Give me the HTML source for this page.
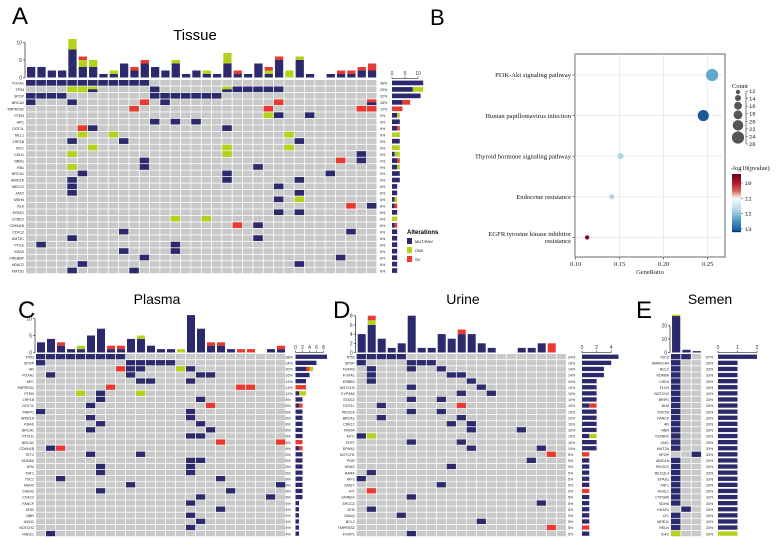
<!DOCTYPE html>
<html><head><meta charset="utf-8"><style>
html,body{margin:0;padding:0;background:#fff;}
svg{display:block;font-family:"Liberation Sans",sans-serif;}
.serif{font-family:"Liberation Serif",serif;}
</style></head><body>
<svg id="fig" width="778" height="538" viewBox="0 0 778 538" xmlns="http://www.w3.org/2000/svg">
<text x="12" y="24" font-size="24">A</text>
<text x="195" y="40" font-size="15" text-anchor="middle">Tissue</text>
<text x="430" y="25" font-size="22">B</text>
<text x="18" y="318" font-size="24">C</text>
<text x="157" y="304" font-size="14" text-anchor="middle">Plasma</text>
<text x="333" y="318" font-size="24">D</text>
<text x="463" y="304" font-size="14" text-anchor="middle">Urine</text>
<text x="636" y="318" font-size="24">E</text>
<text x="710" y="304" font-size="14" text-anchor="middle">Semen</text>
<g>
<text x="407" y="234" font-size="6" font-weight="bold">Alterations</text>
<rect x="407" y="238" width="5" height="6" fill="#2c2a6c"/><text x="415" y="243" font-size="4">MUT/SNV</text>
<rect x="407" y="247" width="5" height="6" fill="#b4d21a"/><text x="415" y="252" font-size="4">CNV</text>
<rect x="407" y="256" width="5" height="6" fill="#e83a2e"/><text x="415" y="261" font-size="4">SV</text>
</g>
</svg>
<script>
// ---------- Tissue ----------
const tissueGenes=["FOXA1","TP53","SPOP","BRCA2","TMPRSS2","PTEN","APC","DOT1L","MLL1","LRP1B","MYC","CDH1","NRR1","RB1","BRCA1","ARID1A","MED12","JAK2","MSH6","ALK","EPAS1","CCND1","CDKN1B","CDK12","KMT2C","POLE","KRAS","CREBBP","HDAC2","KMT2D"];
const tissueRows=["0-11b","4-5g,6x,12b,19x,20-24b","0-3b,12-18b","0b,4b,11r,13b,24r,33y","10r,23r,32-33r","23g,24b,27b","12b,14b,16b","5r,6b,19b","5g,8g,25g","4b,9b,26b","6g,19g,25g","4g,19g,32b","11b,30r,32b","4g,11b,22b","5b,19b,29b","4b,19b,26b","4b,24b","4b,26b","24b,26g","31r,33b","24b,26b","14g,17g","20r,22b","9b,31b","4b,22b","1b,14b","9b,14b","11b,30b","5b,26b","4b,10b"];
const tissueBlue=[3,3,2,2,8,3,3,1,1,4,2,4,3,2,4,1,2,1,1,4,1,1,4,1,5,0,5,1,0,1,1,1,2,2];
const tissueGreen=[0,0,0,0,3,2,2,0,1,0,0,0,0,0,1,0,0,1,0,3,0,0,0,1,0,2,1,0,0,0,0,0,0,0];
const tissueRed=[0,0,0,0,0,1,0,0,0,0,1,1,0,0,0,0,0,0,0,0,1,0,0,1,1,0,0,0,0,0,1,1,1,2];
const tissuePct=["36%","29%","32%","18%","12%","9%","9%","9%","9%","9%","9%","9%","9%","9%","9%","9%","6%","6%","6%","6%","6%","6%","6%","6%","6%","6%","6%","6%","6%","6%"];
const tissueTicks=[0,5,10];
const tissueRbTicks=[0,5,10];
// ---------- Plasma ----------
const plasmaGenes=["TP53","SPOP","AR","FOXA1","APC","TMPRSS2","PTEN","LRP1B","DOT1L","PARP1","ARID1A","KRAS","BRCA1","PTCH1","BRCA2","CDKN1B","TET2","KDM5A","ATM","FAT1","TSC1","MSH2","CHEK2","CDK12","FANCF","IRS2","NBN","AXIN2","NOTCH2","RAD21"];
const plasmaRows=["0-8b","0b,9-13b","8r,9-10b,14g,15b","1b,9b,16-17b","10-11b,15b","7r,20-21r","4g,6b,10g","6b,16b","5b,17r","0b,15b","5b,15b","6b,16b","5b,17b","15-16b","18r,24r","1b,2r","5b,10b","15-16b","6b,15b","6b,15b","2b,18b","9b,24b","6b,19b","16b,23b","15b","18b","15b","16b","15b","1b"];
const plasmaBlue=[3,4,2,1,1,5,7,1,1,4,4,2,1,1,0,11,7,2,2,1,0,0,0,1,1];
const plasmaGreen=[0,0,0,0,1,0,0,0,0,0,1,0,0,0,1,0,0,0,0,0,0,0,0,0,0];
const plasmaRed=[0,0,1,0,0,0,0,1,1,0,0,0,0,0,0,0,0,1,1,0,1,1,0,0,1];
const plasmaPct=["38%","24%","20%","16%","12%","12%","12%","8%","8%","8%","8%","8%","8%","8%","8%","8%","8%","8%","8%","8%","8%","8%","8%","8%","4%","4%","4%","4%","4%","4%"];
const plasmaTicks=[0,5,10];
const plasmaRbTicks=[0,2,4,6,8];
// ---------- Urine ----------
const urineGenes=["TP53","SPOP","FGFR3","FOXA1","ERBB3","NOTCH3","CYP3A5","STAG2","DOT1L","PIK3CA","BRCA1","CDK12","RHOA","MYC","TERT","EPHA2","NOTCH1","PGR","KRAS","RARA","IRF2","EMSY","KIT","GRIN2A","ERCC2","ATM","GNAQ","BCL2","TMPRSS2","FOXP1"];
const urineRows=["0-4b","0b,5-7b","1b,5b,8b","1b,9-10b","1b,11b","5b,12b","10b,13b","5b,8b","2b,10r","5b,8b","2b,10b","9b,11b","11b,16b","0b,1g","5b,10b","11b,18b","19r","17b","9b","1b","0b","8b","1r","5b","18b","1b","4b","12b","19r","5b"];
const urineBlue=[4,6,3,1,2,8,1,1,4,3,4,4,2,1,0,0,1,1,2,0,0];
const urineGreen=[0,1,0,0,0,0,0,0,0,0,0,0,0,0,0,0,0,0,0,0,0];
const urineRed=[0,1,0,0,0,0,0,0,0,0,1,0,0,0,0,0,0,0,0,2,0];
const urinePct=["24%","19%","14%","14%","10%","10%","10%","10%","10%","10%","10%","10%","10%","10%","10%","10%","5%","5%","5%","5%","5%","5%","5%","5%","5%","5%","5%","5%","5%","5%"];
const urineTicks=[0,2,4,6,8];
const urineRbTicks=[0,2,4];
// ---------- Semen ----------
const semenGenes=["TSC2","SMARCA4","BCL2","KDM6A","CHD4","FLCN","NOTCH2","BRIP1","BLM","TOP2A","FANCF","AR","NBN","TGFBR2","JAK1","KMT2A","SPOP","ARID1A","PIK3CG","RECQL4","EPAS1","FAT1","ASXL1","CYP3A5","SDHA","KEAP1","CIC","MRE11","RELN","IGF2"];
const semenRows=["0-1b","0b","0b","0b","0b","0b","0b","0b","0b","0b","0b","0b","0b","0b","0b","0b","2b","0b","0b","0b","0b","0b","0b","0b","0b","1b","0b","0b","0b","0g"];
const semenBlue=[27,2,1];
const semenGreen=[1,0,0];
const semenRed=[0,0,0];
const semenPct=["67%"].concat(Array(29).fill("33%"));
const semenTicks=[0,10,20];
const semenRbTicks=[0,1,2];
// ---------- Pathway dot plot ----------
const pathways=["PI3K-Akt signaling pathway","Human papillomavirus infection","Thyroid hormone signaling pathway","Endocrine resistance","EGFR tyrosine kinase inhibitor|resistance"];
const geneRatio=[0.255,0.245,0.151,0.141,0.113];
const pathCount=[26,24,15,13,12];
const pathLogP=[12.3,13.05,11.75,11.8,9.6];
const ratioTicks=[0.10,0.15,0.20,0.25];
const countLegend=[12,15,18,20,23,26];
const countLabels=[12,14,16,18,20,22,24,26];
const pTicks=[10,11,12,13];

const NS="http://www.w3.org/2000/svg";
const svg=document.getElementById('fig');
const COL={b:"#2c2a6c",g:"#b4d21a",r:"#e83a2e",n:"#c9c9c9"};
function mk(tag,attrs,parent){const e=document.createElementNS(NS,tag);for(const k in attrs)e.setAttribute(k,attrs[k]);(parent||svg).appendChild(e);return e;}
function parseRow(s){const out=[];s.split(',').forEach(t=>{const m=t.match(/(\d+)(?:-(\d+))?([bgrxy])/);if(!m)return;const a=+m[1],b=m[2]?+m[2]:a;for(let c=a;c<=b;c++)out.push([c,m[3]]);});return out;}

function drawOnco(o){
  const g=mk('g',{});
  
  
  const nR=o.genes.length,nC=o.blue.length;
  const cy=(v)=>o.base-v*o.unit;
  // top bar axis
  const ax=mk('g',{},g);
  
  
  const tmax=o.ticks[o.ticks.length-1];
  mk('line',{x1:o.x0-1,x2:o.x0-1,y1:cy(0),y2:cy(tmax),stroke:"#000","stroke-width":0.6},ax);
  o.ticks.forEach(t=>{mk('line',{x1:o.x0-3,x2:o.x0-1,y1:cy(t),y2:cy(t),stroke:"#000","stroke-width":0.5},ax);
    const tx=mk('text',{x:o.x0-4,y:cy(t)+2,"font-size":5,"text-anchor":"end",fill:"#333"},ax);tx.textContent=t;});
  // top bars
  for(let c=0;c<nC;c++){
    const x=o.x0+c*o.cw+o.cw*0.1,w=o.cw*0.8;let acc=0;
    [['b',o.blue[c]],['g',o.green[c]],['r',o.red[c]]].forEach(([k,v])=>{if(!v)return;
      const r=mk('rect',{x:x,y:cy(acc+v),width:w,height:v*o.unit,fill:COL[k]},g);
      
      
      acc+=v;});
  }
  // grid
  for(let i=0;i<nR;i++){
    const y=o.y0+i*o.rh;
    for(let c=0;c<nC;c++){mk('rect',{x:o.x0+c*o.cw,y:y,width:o.cw-0.8,height:o.rh-0.8,fill:COL.n},g);}
    const cnt={b:0,g:0,r:0};
    parseRow(o.rows[i]).forEach(([c,k])=>{
      const x=o.x0+c*o.cw;
      if(k==='x'||k==='y'){
        mk('rect',{x:x,y:y,width:o.cw-0.8,height:(o.rh-0.8)/2,fill:k==='x'?COL.g:COL.r},g);
        mk('rect',{x:x,y:y+(o.rh-0.8)/2,width:o.cw-0.8,height:(o.rh-0.8)/2,fill:COL.b},g);
        cnt.b+=1;cnt[k==='x'?'g':'r']+=1;
      } else {
        const r=mk('rect',{x:x,y:y,width:o.cw-0.8,height:o.rh-0.8,fill:COL[k]},g);
        
        
        cnt[k]+=1;
      }
    });
    const gl=mk('text',{x:o.x0-2,y:y+o.rh*0.72,"font-size":o.fs,"text-anchor":"end",fill:"#222"},g);
    gl.textContent=o.genes[i];
    
    
    const pl=mk('text',{x:o.pctX,y:y+o.rh*0.72,"font-size":o.fs,fill:"#222"},g);
    pl.textContent=o.pct[i];
    let xa=o.rbX;
    ['b','r','g'].forEach(k=>{if(!cnt[k])return;
      const r=mk('rect',{x:xa,y:y+0.6,width:cnt[k]*o.rbUnit,height:o.rh-1.8,fill:COL[k]},g);
      
      
      xa+=cnt[k]*o.rbUnit;});
  }
  // right axis
  const ra=mk('g',{},g);
  
  
  const rmax=o.rbTicks[o.rbTicks.length-1];
  mk('line',{x1:o.rbX,x2:o.rbX+rmax*o.rbUnit,y1:o.y0-1.5,y2:o.y0-1.5,stroke:"#000","stroke-width":0.6},ra);
  o.rbTicks.forEach(t=>{const x=o.rbX+t*o.rbUnit;
    mk('line',{x1:x,x2:x,y1:o.y0-3.5,y2:o.y0-1.5,stroke:"#000","stroke-width":0.5},ra);
    const tx=mk('text',{x:x,y:o.y0-5,"font-size":5,"text-anchor":"middle",fill:"#333"},ra);tx.textContent=t;});
}
drawOnco({name:"tissue",genes:tissueGenes,rows:tissueRows,blue:tissueBlue,green:tissueGreen,red:tissueRed,pct:tissuePct,ticks:tissueTicks,rbTicks:tissueRbTicks,
  x0:26,y0:80,cw:10.33,rh:6.47,base:77.5,unit:3.5,pctX:380,rbX:392,rbUnit:2.6,fs:3.6});
drawOnco({name:"plasma",genes:plasmaGenes,rows:plasmaRows,blue:plasmaBlue,green:plasmaGreen,red:plasmaRed,pct:plasmaPct,ticks:plasmaTicks,rbTicks:plasmaRbTicks,
  x0:36,y0:354,cw:10,rh:6.1,base:352.5,unit:3.4,pctX:285.5,rbX:295.5,rbUnit:3.5,fs:3.6});
drawOnco({name:"urine",genes:urineGenes,rows:urineRows,blue:urineBlue,green:urineGreen,red:urineRed,pct:urinePct,ticks:urineTicks,rbTicks:urineRbTicks,
  x0:356.7,y0:354,cw:10,rh:6.1,base:352.5,unit:4.6,pctX:568,rbX:582,rbUnit:7.3,fs:3.6});
drawOnco({name:"semen",genes:semenGenes,rows:semenRows,blue:semenBlue,green:semenGreen,red:semenRed,pct:semenPct,ticks:semenTicks,rbTicks:semenRbTicks,
  x0:671,y0:354,cw:10.3,rh:6.1,base:352.5,unit:1.35,pctX:706,rbX:718,rbUnit:19.5,fs:3.6});

// ---------- dot plot ----------
(function(){
  const L=575,R=725,T=54,B=257;
  const xs=v=>575.7+(v-0.10)/0.05*44;
  const ys=i=>75+i*40.6;
  const rad=c=>2.2+(c-12)/14*3.9;
  const stops=[[9.4,[103,0,31]],[10,[178,24,43]],[10.5,[214,96,77]],[11,[247,247,247]],[11.5,[209,229,240]],[12,[146,197,222]],[12.5,[67,147,195]],[13,[33,102,172]],[13.2,[5,48,97]]];
  function col(v){if(v<=stops[0][0])return 'rgb('+stops[0][1]+')';
    for(let i=1;i<stops.length;i++){if(v<=stops[i][0]){const a=stops[i-1],b=stops[i],t=(v-a[0])/(b[0]-a[0]);
      return 'rgb('+a[1].map((c,j)=>Math.round(c+(b[1][j]-c)*t)).join(',')+')';}}
    return 'rgb('+stops[stops.length-1][1]+')';}
  const g=mk('g',{class:'serif'});
  
  
  mk('rect',{x:L,y:T,width:R-L,height:B-T,fill:"#fff",stroke:"#444","stroke-width":0.8},g);
  ratioTicks.forEach(t=>{mk('line',{x1:xs(t),x2:xs(t),y1:T,y2:B,stroke:"#e4e4e4","stroke-width":0.7},g);
    mk('line',{x1:xs(t),x2:xs(t),y1:B,y2:B+2.5,stroke:"#333","stroke-width":0.6},g);
    const tx=mk('text',{x:xs(t),y:B+9,"font-size":6.5,"text-anchor":"middle",fill:"#222"},g);tx.textContent=t.toFixed(2);});
  const xt=mk('text',{x:650,y:B+17,"font-size":6.5,"text-anchor":"middle",fill:"#222"},g);xt.textContent="GeneRatio";
  
  
  pathways.forEach((p,i)=>{const y=ys(i);
    mk('line',{x1:L,x2:R,y1:y,y2:y,stroke:"#e4e4e4","stroke-width":0.7},g);
    mk('line',{x1:L-2.5,x2:L,y1:y,y2:y,stroke:"#333","stroke-width":0.6},g);
    const parts=p.split('|');
    parts.forEach((s,k)=>{const t=mk('text',{x:L-4,y:y+2.2+(k-(parts.length-1))*7+(parts.length>1?3.5:0),"font-size":6.6,"text-anchor":"end",fill:"#111"},g);t.textContent=s;
      
      });
    const c=mk('circle',{cx:xs(geneRatio[i]),cy:y,r:rad(pathCount[i]),fill:col(pathLogP[i])},g);
    
    
  });
  // count legend
  const ct=mk('text',{x:732,y:88,"font-size":6.5,fill:"#111"},g);ct.textContent="Count";
  
  
  let cyv=92;
  countLegend.forEach((c,i)=>{const r=rad(c);if(i>0)cyv+=rad(countLegend[i-1])+r+0.8;
    mk('circle',{cx:738,cy:cyv,r:r,fill:"#555"},g);});
  const ly=v=>91+(v-12)/14*53;
  mk('line',{x1:746,x2:746,y1:ly(12),y2:ly(26),stroke:"#333","stroke-width":0.6},g);
  countLabels.forEach(v=>{mk('line',{x1:746,x2:748,y1:ly(v),y2:ly(v),stroke:"#333","stroke-width":0.5},g);
    const t=mk('text',{x:749,y:ly(v)+2,"font-size":5.5,fill:"#111","font-family":"Liberation Mono,monospace"},g);t.textContent=v;});
  // colorbar
  const pt=mk('text',{x:731,y:170,"font-size":6.5,fill:"#111"},g);pt.textContent="-log10(pvalue)";
  
  
  const pv=v=>183+(v-10)*15.3;
  for(let y=174;y<232;y+=1){mk('rect',{x:732,y:y,width:9,height:1.2,fill:col(10+(y+0.5-183)/15.3)},g);}
  pTicks.forEach(v=>{mk('line',{x1:741,x2:743,y1:pv(v),y2:pv(v),stroke:"#333","stroke-width":0.5},g);
    const t=mk('text',{x:745,y:pv(v)+2,"font-size":5.5,fill:"#111","font-family":"Liberation Mono,monospace"},g);t.textContent=v;});
})();
</script>
</body></html>
